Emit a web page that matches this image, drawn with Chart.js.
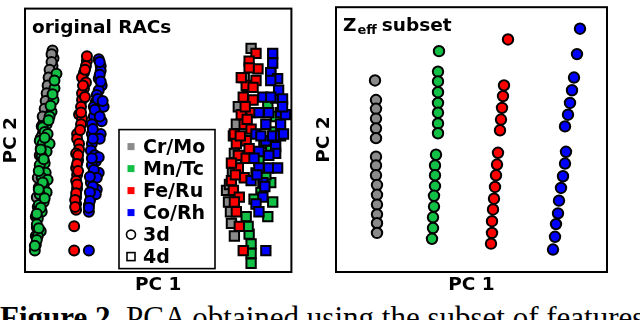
<!DOCTYPE html>
<html>
<head>
<meta charset="utf-8">
<script src="https://cdn.jsdelivr.net/npm/chart.js@4.4.0/dist/chart.umd.min.js"></script>
<style>
  html, body { margin: 0; padding: 0; background: #fff; }
  #wrap { position: relative; width: 640px; height: 320px; overflow: hidden; background: #fff; }
  #left { position: absolute; left: 0; top: 0; }
  #right { position: absolute; left: 300px; top: 0; }
  #caption {
    position: absolute; left: 0; top: 303px; white-space: nowrap;
    font-family: "Liberation Serif", "Times New Roman", serif;
    font-size: 31px; line-height: 30px; color: #000;
  }
</style>
</head>
<body>
<div id="wrap">
  <div id="left"><canvas id="c1" width="300" height="300"></canvas></div>
  <div id="right"><canvas id="c2" width="340" height="300"></canvas></div>
  <div id="caption"><b>Figure 2.</b> PCA obtained using the subset of features</div>
</div>
<script>
// points, [PC1, PC2] in arbitrary units
const groups = ['Cr/Mo', 'Mn/Tc', 'Fe/Ru', 'Co/Rh'];
const groupColors = ['#8a8a8a', '#12c046', '#ff0000', '#0000ff'];
const shells = ['3d', '4d'];

// left panel: original RACs, 3d complexes (circles)
const crMo3d = [[28,228],[29,220],[28,212],[26,204],[25,196],[24,188],[23,180],[22,172],[21,164],[19,154],[18,142],[16,127],[15,107],[14,87],[13,67],[12,46],[11,37],
  [27,224],[27,216],[25,208],[24,200],[23,192],[22,184],[21,176],[20,168],[18,160],[17,150],[16,138],[15,120],[13,97],[12,77],[11,57]];
const mnTc3d = [[32,204],[30,189],[29,177],[27,165],[25,160],[22,152],[18,149],[20,144],[23,142],[15,135],[18,132],[25,132],[22,124],[17,119],[20,112],[15,110],[21,102],[17,97],[23,95],[19,89],[22,82],[15,80],[19,72],[14,69],[17,62],[13,55],[12,49],[16,42],[13,37],[11,28],[10,22],
  [30,197],[28,183],[26,171],[24,156],[20,138],[16,126],[19,116],[14,104],[18,92],[14,85],[20,76],[16,66],[12,60],[14,45],[12,33],[10,27]];
const feRu3d = [[63,217],[62,212],[60,205],[58,200],[62,195],[60,189],[58,184],[58,177],[57,170],[55,162],[58,158],[57,152],[53,142],[53,137],[55,132],[55,126],[52,122],[54,115],[52,107],[53,100],[52,94],[53,86],[52,77],[52,70],[52,64],[50,47],[50,22],
  [63,222],[61,208],[59,192],[61,180],[57,164],[56,146],[54,120],[53,111],[54,104],[53,90],[52,81],[51,74],[51,67]];
const coRh3d = [[75,219],[77,212],[77,207],[75,199],[78,192],[75,187],[73,182],[72,175],[70,170],[80,170],[72,164],[70,160],[78,155],[68,152],[68,142],[77,142],[68,132],[67,125],[72,114],[68,110],[75,102],[67,92],[73,85],[67,77],[65,69],[65,62],[65,22],
  [76,216],[76,203],[77,196],[74,178],[79,176],[71,167],[76,160],[69,147],[76,137],[69,137],[71,120],[75,118],[68,117],[70,105],[73,97],[66,98],[69,88],[72,80],[66,82],[66,73],[65,66]];

// left panel: 4d complexes (squares)
const crMo4d = [[230,230],[223,200],[217,170],[215,152],[213,122],[205,84],[207,72],[210,50],[213,37],[211,102],[209,62],
  [226,190],[212,140],[208,90],[215,112]];
const mnTc4d = [[250,204],[253,144],[250,92],[252,72],[247,57],[225,57],[228,39],[230,29],[230,19],[230,9],[227,47],[243,132],[240,82],[235,102],[247,172],
  [238,115],[255,160],[245,100],[233,75],[250,125]];
const feRu4d = [[235,225],[228,217],[237,209],[228,210],[225,192],[235,197],[222,180],[232,177],[230,164],[223,152],[213,142],[225,135],[215,132],[217,120],[217,107],[210,94],[212,84],[218,77],[215,62],[218,47],[222,22],[225,117],[220,162],[230,147],[210,112],[223,97],[213,72],
  [219,140],[226,157],[214,100],[228,127],[232,190],[220,200],[224,170]];
const coRh4d = [[252,225],[252,215],[250,205],[257,199],[250,197],[242,180],[255,179],[238,164],[248,164],[260,164],[245,152],[260,152],[235,142],[245,135],[255,129],[238,124],[255,122],[238,107],[248,107],[257,107],[230,94],[242,92],[242,77],[235,70],[238,62],[245,22],[258,187],[233,117],
  [250,180],[240,140],[248,120],[252,140],[236,100],[244,88],[262,178],[260,140],[265,162],[263,142],[262,170]];

// right panel: Zeff subset
const crMoZeff = [[39,196],[40,176],[40,167],[40,157],[40,147],[40,137],[40,118],[40,109],[40,99],[41,89],[41,79],[41,69],[41,59],[41,50],[41,40]];
const mnTcZeff = [[103,226],[102,205],[102,195],[102,184],[102,173],[102,163],[102,152],[102,142],[100,120],[99,109],[99,99],[99,88],[98,78],[98,67],[97,56],[97,45],[96,34]];
const feRuZeff = [[172,238],[168,191],[167,180],[166,168],[165,156],[164,145],[162,122],[161,110],[160,99],[159,87],[158,75],[157,64],[156,52],[156,40],[155,29]];
const coRhZeff = [[244,249],[241,223],[238,199],[236,186],[234,173],[232,161],[229,149],[230,123],[229,111],[227,98],[225,86],[223,73],[222,60],[220,49],[219,36],[217,23]];

const FONT = '"DejaVu Sans", Verdana, sans-serif';

function pts(arr) {
  return arr.map(p => ({ x: p[0], y: p[1] }));
}

function ds(label, arr, color, style, radius, order) {
  return {
    label: label,
    data: pts(arr),
    pointStyle: style,
    pointRadius: radius,
    pointBorderWidth: 2,
    pointBorderColor: '#000',
    pointBackgroundColor: color,
    order: order
  };
}

function axes(yPad) {
  const t = (text, pad) => ({
    display: true, text: text, color: '#000', padding: pad,
    font: { family: FONT, size: 18.5, weight: 'bold', lineHeight: 1 }
  });
  return {
    x: { type: 'linear', min: 0, max: 271, ticks: { display: false },
         grid: { display: false, drawTicks: false }, border: { display: false },
         title: t('PC 1', { top: 4, bottom: 0 }) },
    y: { type: 'linear', min: 0, max: 271, ticks: { display: false },
         grid: { display: false, drawTicks: false }, border: { display: false },
         title: t('PC 2', { top: 0, bottom: yPad }) }
  };
}

// black frame + panel title
const framePlugin = {
  id: 'frame',
  afterDraw(chart, args, opts) {
    const { ctx, chartArea: a } = chart;
    ctx.save();
    ctx.strokeStyle = '#000';
    ctx.lineWidth = 2;
    ctx.strokeRect(a.left, a.top, a.right - a.left, a.bottom - a.top);
    ctx.fillStyle = '#000';
    ctx.textBaseline = 'alphabetic';
    let x = a.left + 7;
    opts.parts.forEach(p => {
      ctx.font = 'bold ' + p.size + 'px ' + FONT;
      ctx.fillText(p.text, x, a.top + 24 + (p.dy || 0));
      x += ctx.measureText(p.text).width + (p.gap || 0);
    });
    ctx.restore();
  }
};

// legend box inside the left panel
const boxLegend = {
  id: 'boxLegend',
  afterDraw(chart, args, opts) {
    if (!opts.show) return;
    const { ctx, chartArea: a } = chart;
    const bx = a.left + 94, by = a.top + 121, bw = 96, bh = 139;
    ctx.save();
    ctx.fillStyle = '#fff';
    ctx.fillRect(bx, by, bw, bh);
    ctx.strokeStyle = '#000';
    ctx.lineWidth = 1.6;
    ctx.strokeRect(bx, by, bw, bh);
    ctx.font = 'bold 19px ' + FONT;
    ctx.textBaseline = 'middle';
    const items = groups.concat(shells);
    items.forEach((name, i) => {
      const cy = by + 17 + i * 22;
      const mx = bx + 12;
      if (i < groups.length) {
        ctx.fillStyle = groupColors[i];
        ctx.fillRect(mx - 3.5, cy - 3.5, 7, 7);
      } else if (name === '3d') {
        ctx.beginPath();
        ctx.arc(mx, cy, 4.5, 0, Math.PI * 2);
        ctx.lineWidth = 1.6;
        ctx.stroke();
      } else {
        ctx.lineWidth = 1.6;
        ctx.strokeRect(mx - 4, cy - 4, 8, 8);
      }
      ctx.fillStyle = '#000';
      ctx.fillText(name, bx + 24, cy + 1);
    });
    ctx.restore();
  }
};

Chart.register(framePlugin, boxLegend);

function makeChart(id, datasets, padding, yPad, parts, legend) {
  return new Chart(document.getElementById(id), {
    type: 'scatter',
    data: { datasets: datasets },
    options: {
      responsive: false,
      animation: false,
      events: [],
      layout: { padding: padding },
      scales: axes(yPad),
      plugins: {
        legend: { display: false },
        tooltip: { enabled: false },
        frame: { parts: parts },
        boxLegend: { show: legend }
      }
    }
  });
}

makeChart('c1', [
  ds('Cr/Mo 3d', crMo3d, groupColors[0], 'circle', 5, 7),
  ds('Mn/Tc 3d', mnTc3d, groupColors[1], 'circle', 5, 6),
  ds('Fe/Ru 3d', feRu3d, groupColors[2], 'circle', 5, 5),
  ds('Co/Rh 3d', coRh3d, groupColors[3], 'circle', 5, 4),
  ds('Cr/Mo 4d', crMo4d, groupColors[0], 'rect', 6.6, 3),
  ds('Mn/Tc 4d', mnTc4d, groupColors[1], 'rect', 6.6, 2),
  ds('Fe/Ru 4d', feRu4d, groupColors[2], 'rect', 6.6, 1),
  ds('Co/Rh 4d', coRh4d, groupColors[3], 'rect', 6.6, 0)
], { left: 1.5, right: 4, top: 1, bottom: 5.5 }, 5,
  [{ text: 'original RACs', size: 18.5 }], true);

makeChart('c2', [
  ds('Cr/Mo', crMoZeff, groupColors[0], 'circle', 5.2, 0),
  ds('Mn/Tc', mnTcZeff, groupColors[1], 'circle', 5.2, 1),
  ds('Fe/Ru', feRuZeff, groupColors[2], 'circle', 5.2, 2),
  ds('Co/Rh', coRhZeff, groupColors[3], 'circle', 5.2, 3)
], { left: 14.5, right: 33, top: 1, bottom: 5.5 }, 3,
  [{ text: 'Z', size: 18.5, gap: 1 }, { text: 'eff', size: 13, dy: 3, gap: 5 }, { text: 'subset', size: 18.5 }], false);
</script>
</body>
</html>
